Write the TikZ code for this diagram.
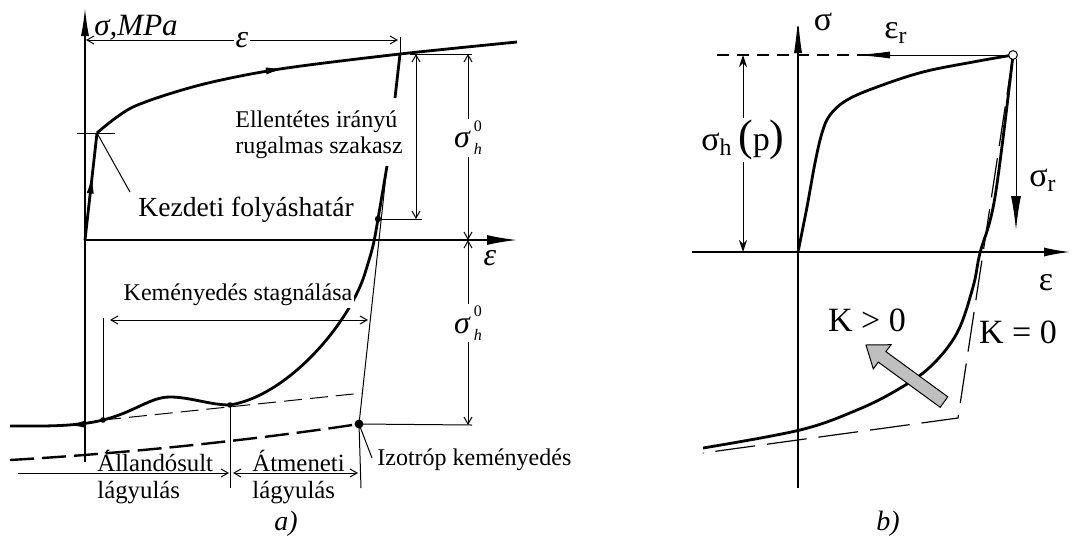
\documentclass[tikz,border=0pt]{standalone}
\usepackage{fontspec}
\setmainfont{Liberation Serif}
\usetikzlibrary{arrows.meta,decorations.markings}
\newcommand{\sighnull}{\textit{σ}\kern1.5pt\raisebox{-3.5pt}{\fontsize{8}{8}\selectfont\shortstack[l]{0\\[3pt]\textit{h}}}}
\begin{document}
\begin{tikzpicture}[x=0.5pt,y=-0.5pt,
    axis/.style={line width=0.7pt},
    thinline/.style={line width=0.5pt},
    curve/.style={line width=1.4pt},
    dim/.style={thinline,{Straight Barb[length=3.5pt,width=4pt]}-{Straight Barb[length=3.5pt,width=4pt]}},
    lbl/.style={font=\fontsize{12}{13}\selectfont,inner sep=1pt},
    botlbl/.style={font=\fontsize{12.4}{13.5}\selectfont,inner sep=1pt},
    greek/.style={font=\fontsize{16}{16}\selectfont,inner sep=1pt},
    biglbl/.style={font=\fontsize{17}{20}\selectfont,inner sep=1pt},
    midarrow/.style={postaction={decorate},decoration={markings,
        mark=at position #1 with {\arrow{Latex[length=11pt,width=3.5pt]}}}}]
\useasboundingbox (0,0) rectangle (1072,537);
% a)
\coordinate (O) at (85,240);
\coordinate (Y) at (97,133);
\coordinate (A) at (400,54);
\coordinate (B) at (387,166);
\coordinate (C) at (378,219);
\coordinate (D) at (230,405);
\coordinate (E) at (103,420);
\coordinate (I) at (359,424);
\draw[axis,-{Latex[length=14pt,width=4pt]}] (85,462) -- (85,8);
\draw[axis,-{Latex[length=15pt,width=5pt]}] (O) -- (517,240);
\node[anchor=west,inner sep=1pt,font=\fontsize{15.5}{16}\selectfont] (sigma) at (92,28) {\textit{σ,MPa}};
\node[greek] (epsa) at (490,258) {\textit{ε}};
\draw[dim] (86,40) -- (398,40) node[midway,fill=white,greek] (epsdim) {\textit{ε}};
\draw[thinline] (400,37) -- (A);
% felterheles
\draw[curve,midarrow=0.64] (O) -- (Y);
\draw[curve,midarrow=0.47] plot[smooth] coordinates {(Y) (133,107) (200,85) (280,69) (400,54) (517,42)};
\draw[thinline] (77,133) -- (115,133);
\node[anchor=west,inner sep=1pt,font=\fontsize{13.8}{14}\selectfont] (kezd) at (136,210) {Kezdeti folyáshatár};
\draw[thinline] (Y) -- (130,192);
% tehermentes
\draw[curve] (A) -- (395,98);
\node[lbl,anchor=west,align=left] (ellen) at (233,135) {Ellentétes irányú\\rugalmas szakasz};
\draw[thinline] (B) -- (I);
\draw[curve,midarrow=0.9] (B) -- (C) .. controls (373.5,245.5) .. (366,270)
    .. controls (352,320) and (290,395) .. (D) .. controls (210,405) and (190,397) .. (170,397)
    .. controls (150,397) and (135,412) .. (E) .. controls (75,427) and (40,426) .. (10,426);
\draw[thinline,dash pattern=on 9pt off 4pt] (E) -- (363,393);
\draw[line width=1.2pt,dash pattern=on 12pt off 4pt] (10,460) .. controls (150,452) and (280,436) .. (I);
\fill (C) circle[radius=1.6pt];
\fill (D) circle[radius=1.4pt];
\fill (E) circle[radius=1.4pt];
\fill (I) circle[radius=2.2pt];
% meretek
\draw[thinline] (410,54) -- (472,54);
\draw[thinline] (C) -- (422,219);
\draw[dim] (416,54) -- (416,219);
\draw[dim] (468,54) -- (468,240) node[pos=0.45,fill=white,greek] (sh1) {\sighnull};
\draw[dim] (468,240) -- (468,425) node[pos=0.45,fill=white,greek] (sh2) {\sighnull};
\draw[thinline] (I) -- (472,425);
\draw[thinline] (E) -- (103,318);
\draw[dim] (110,320) -- (368,320);
\node[lbl,fill=white] (stag) at (238,295) {Keményedés stagnálása};
\draw[thinline] (D) -- (230,488);
\draw[thinline] (I) -- (361,488);
\draw[thinline,-{Straight Barb[length=3.5pt,width=4pt]}] (18,473) -- (229,473);
\draw[dim] (233,473) -- (358,473);
\node[botlbl,anchor=west,align=left] (allando) at (95,477) {Állandósult\\lágyulás};
\node[botlbl,anchor=west,align=left] (atmen) at (250,477) {Átmeneti\\lágyulás};
\node[lbl,anchor=west] (izo) at (375,460) {Izotróp keményedés};
\draw[thinline] (I) -- (372,458);
\node[font=\fontsize{14}{15}\selectfont] (capa) at (286,524) {\textit{a)}};
% b)
\coordinate (Or) at (798,252);
\coordinate (R) at (1013,55);
\coordinate (Kc) at (958,418);
\draw[axis,-{Latex[length=18pt,width=4pt]}] (798,488) -- (798,17);
\draw[axis,-{Latex[length=13pt,width=4.5pt]}] (692,252) -- (1070,252);
\draw[axis,dash pattern=on 6pt off 4pt] (717,55) -- (870,55);
\draw[thinline,-{Latex[length=17pt,width=3.5pt]}] (R) -- (856,55);
\draw[curve] plot[smooth,tension=0.6] coordinates {(Or) (807,207) (815,163) (822,133) (830,115) (847,100) (877,87) (923,72) (973,62) (R)};
\draw[curve] plot[smooth,tension=0.6] coordinates {(R) (995,197) (980,253) (973,287) (957,333) (930,367) (897,390) (857,410) (800,430) (703,448)};
\draw[line width=0.6pt,dash pattern=on 20pt off 6pt] (R) -- (Kc) -- (703,453);
\draw[thinline,-{Latex[length=17pt,width=5pt]}] (1016,59) -- (1016,230);
\draw[thinline,fill=white] (R) circle[radius=2.2pt];
\draw[thinline,{Stealth[length=6pt,width=4pt]}-{Stealth[length=6pt,width=4pt]}] (743,55) -- (743,252)
    node[pos=0.43,fill=white,biglbl] (sighp) {σ\textsubscript{h}\,{\fontsize{22}{22}\selectfont(}p{\fontsize{22}{22}\selectfont)}};
\draw[thinline,fill=gray!50] (947.8,396.8) -- (885.9,351.6) -- (891.0,344.7) -- (866,345)
    -- (873.3,368.9) -- (878.3,362.1) -- (940.2,407.3) -- cycle;
\node[biglbl] (sigb) at (823,22) {σ};
\node[biglbl] (epsr) at (896,33) {ε\textsubscript{r}};
\node[biglbl] (sigr) at (1043,180) {σ\textsubscript{r}};
\node[biglbl] (epsb) at (1046,283) {ε};
\node[biglbl] (kpos) at (867,320) {K > 0};
\node[biglbl] (knull) at (1018,332) {K = 0};
\node[font=\fontsize{14}{15}\selectfont] (capb) at (888,524) {\textit{b)}};
\end{tikzpicture}
\end{document}
